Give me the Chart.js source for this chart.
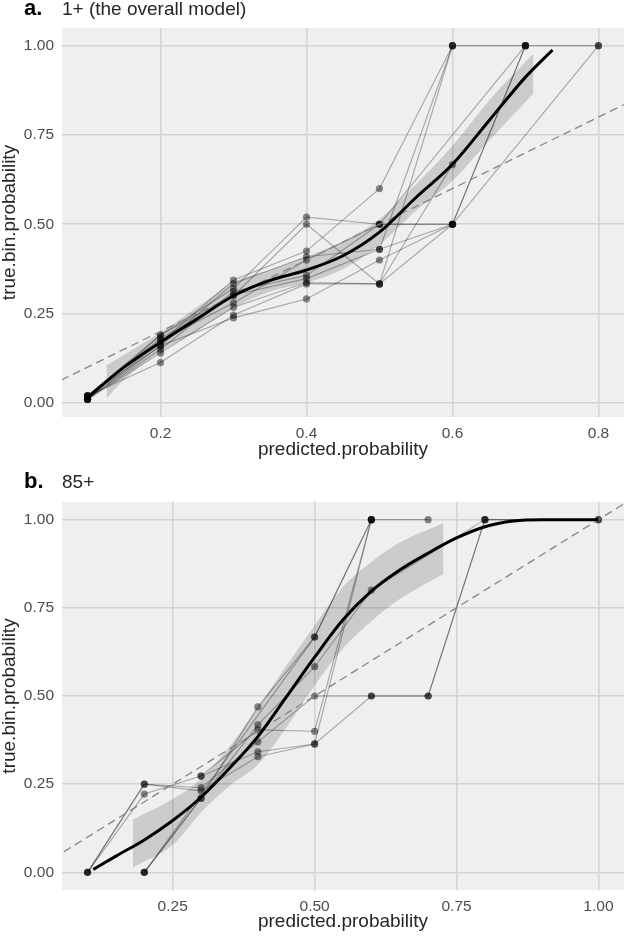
<!DOCTYPE html>
<html>
<head>
<meta charset="utf-8">
<script src="https://cdn.jsdelivr.net/npm/chart.js@4.4.1/dist/chart.umd.min.js"></script>
<style>
  body { margin: 0; background: #fff; }
  canvas { display: block; }
</style>
</head>
<body>
<canvas id="chartA" width="628" height="465"></canvas>
<canvas id="chartB" width="628" height="472"></canvas>
<script>
// ---- panel a: 1+ (the overall model) ----
const binsA = [0.1, 0.2, 0.3, 0.4, 0.5, 0.6, 0.7, 0.8];
const foldsA = [
  [0.01, 0.19, 0.32, 0.52, 0.50, 0.50, 1.00, null],
  [0.02, 0.18, 0.30, 0.50, 0.333, 1.00, 1.00, 1.00],
  [0.01, 0.17, 0.344, 0.425, 0.60, 1.00, null, null],
  [0.02, 0.16, 0.334, 0.409, 0.43, 1.00, null, null],
  [0.01, 0.15, 0.312, 0.357, 0.50, null, 1.00, null],
  [0.02, 0.19, 0.302, 0.348, 0.43, 0.50, null, 1.00],
  [0.01, 0.14, 0.268, 0.337, 0.333, 0.50, null, null],
  [0.02, 0.113, 0.246, 0.333, 0.333, 0.667, null, null],
  [0.01, 0.16, 0.238, 0.291, 0.40, 0.50, null, null],
  [0.02, 0.175, 0.28, 0.40, 0.50, 0.50, 1.00, null]
];
const smoothAx = [0.1, 0.15, 0.2, 0.25, 0.3, 0.35, 0.4, 0.45, 0.5, 0.55, 0.6, 0.65, 0.7, 0.737];
const smoothAy = [0.015, 0.10, 0.17, 0.235, 0.30, 0.343, 0.372, 0.412, 0.478, 0.575, 0.668, 0.79, 0.912, 0.988];
const bandAx = [0.126, 0.15, 0.2, 0.25, 0.3, 0.35, 0.4, 0.45, 0.5, 0.55, 0.6, 0.65, 0.711];
const bandAhi = [0.105, 0.135, 0.197, 0.268, 0.338, 0.372, 0.41, 0.452, 0.515, 0.612, 0.72, 0.846, 0.978];
const bandAlo = [0.012, 0.065, 0.143, 0.203, 0.266, 0.312, 0.336, 0.375, 0.443, 0.538, 0.622, 0.734, 0.866];
const xTicksA = [0.2, 0.4, 0.6, 0.8];

// ---- panel b: 85+ ----
const binsB = [0.1, 0.2, 0.3, 0.4, 0.5, 0.6, 0.7, 0.8, 1.0];
const foldsB = [
  [0, 0.25, 0.24, 0.37, 0.50, 0.50, 0.50, 1.00, 1.00],
  [0, 0.25, 0.231, 0.328, 0.364, 0.50, 0.50, 1.00, 1.00],
  [0, 0.222, 0.273, 0.404, 0.40, 1.00, 1.00, null, null],
  [null, 0, null, null, 0.667, 1.00, null, null, null],
  [null, 0, 0.21, 0.469, 0.667, 1.00, null, null, null],
  [null, 0, 0.21, 0.418, 0.583, 0.80, null, 1.00, null],
  [null, null, 0.273, 0.342, 0.364, 1.00, null, null, null]
];
const smoothBx = [0.11, 0.15, 0.2, 0.25, 0.3, 0.35, 0.4, 0.45, 0.5, 0.55, 0.6, 0.65, 0.7, 0.75, 0.8, 0.85, 0.9, 0.95, 1.0];
const smoothBy = [0.008, 0.046, 0.092, 0.147, 0.213, 0.295, 0.385, 0.497, 0.61, 0.716, 0.797, 0.857, 0.905, 0.948, 0.98, 0.996, 1.0, 1.0, 1.0];
const bandBx = [0.18, 0.25, 0.3, 0.35, 0.4, 0.45, 0.5, 0.55, 0.6, 0.65, 0.727];
const bandBhi = [0.15, 0.208, 0.265, 0.356, 0.468, 0.585, 0.70, 0.81, 0.88, 0.935, 0.99];
const bandBlo = [0.014, 0.078, 0.17, 0.245, 0.305, 0.41, 0.53, 0.635, 0.712, 0.775, 0.846];
const xTicksB = [0.25, 0.50, 0.75, 1.00];

const yTicks = [0, 0.25, 0.5, 0.75, 1.0];
const refLine = [0, 1.2]; // y = x

const FONT = '"Liberation Sans", Arial, sans-serif';

// grey panel background
const panelBg = {
  id: 'panelBg',
  beforeDraw(chart) {
    const a = chart.chartArea, ctx = chart.ctx;
    ctx.save();
    ctx.fillStyle = '#efefef';
    ctx.fillRect(a.left, a.top, a.right - a.left, a.bottom - a.top);
    ctx.restore();
  }
};

// "a.  1+ (...)" style heading
const panelTitle = {
  id: 'panelTitle',
  afterDraw(chart, args, opts) {
    const ctx = chart.ctx;
    ctx.save();
    ctx.textBaseline = 'alphabetic';
    ctx.fillStyle = '#000';
    ctx.font = 'bold 22px ' + FONT;
    ctx.fillText(opts.tag, 24, opts.baseline);
    ctx.fillStyle = '#262626';
    ctx.font = '19px ' + FONT;
    ctx.fillText(opts.text, 62, opts.baseline);
    ctx.restore();
  }
};

function pts(xs, ys) {
  return xs.map((x, i) => ({x: x, y: ys[i]})).filter(p => p.y !== null);
}

function expand(vals) {
  const lo = Math.min(...vals), hi = Math.max(...vals), pad = (hi - lo) * 0.05;
  return [lo - pad, hi + pad];
}

function makeChart(id, p) {
  const [xmin, xmax] = expand(p.bins);
  const allY = p.folds.flat().filter(v => v !== null);
  const [ymin, ymax] = expand(allY);

  const datasets = [
    { // smooth fit
      data: pts(p.sx, p.sy), borderColor: '#000', borderWidth: 3,
      pointRadius: 0, cubicInterpolationMode: 'monotone', fill: false, order: 0
    },
    { // y = x reference
      data: pts(refLine, refLine), borderColor: '#858585', borderWidth: 1.3,
      borderDash: [8, 5], pointRadius: 0, fill: false, clip: 0, order: 1
    },
    { // band upper
      data: pts(p.bx, p.bhi), borderWidth: 0, pointRadius: 0,
      cubicInterpolationMode: 'monotone',
      backgroundColor: 'rgba(0,0,0,0.15)', fill: '+1', order: 2
    },
    { // band lower
      data: pts(p.bx, p.blo), borderWidth: 0, pointRadius: 0,
      cubicInterpolationMode: 'monotone', fill: false, order: 3
    }
  ];
  p.folds.forEach((f, i) => {
    datasets.push({
      data: pts(p.bins, f),
      borderColor: 'rgba(0,0,0,0.3)', borderWidth: 1.15,
      pointRadius: 3.6, pointBackgroundColor: 'rgba(0,0,0,0.45)', pointBorderWidth: 0,
      tension: 0, fill: false, order: 10 + i
    });
  });

  return new Chart(document.getElementById(id), {
    type: 'line',
    data: { datasets: datasets },
    options: {
      responsive: false,
      animation: false,
      events: [],
      layout: { padding: { top: p.top, left: 0, right: 0, bottom: 0 } },
      plugins: {
        legend: { display: false },
        tooltip: { enabled: false },
        panelTitle: { tag: p.tag, text: p.title, baseline: p.baseline }
      },
      scales: {
        x: {
          type: 'linear', min: xmin, max: xmax,
          border: { display: false },
          grid: { color: '#d3d3d3', lineWidth: 1.6, drawTicks: false },
          ticks: {
            padding: 7, color: '#4d4d4d', font: { family: FONT, size: 15.5 },
            callback: v => Number(v).toFixed(p.xdec), maxRotation: 0
          },
          afterBuildTicks: s => { s.ticks = p.xticks.map(v => ({value: v})); },
          title: {
            display: true, text: 'predicted.probability', color: '#262626',
            font: { family: FONT, size: 19, lineHeight: 1 }, padding: { top: 0, bottom: 5.5 }
          },
          afterFit: s => { s.height = p.xh; }
        },
        y: {
          type: 'linear', min: ymin, max: ymax,
          border: { display: false },
          grid: { color: '#d3d3d3', lineWidth: 1.6, drawTicks: false },
          ticks: {
            padding: 8, color: '#4d4d4d', font: { family: FONT, size: 15.5 },
            callback: v => Number(v).toFixed(2)
          },
          afterBuildTicks: s => { s.ticks = yTicks.map(v => ({value: v})); },
          title: {
            display: true, text: 'true.bin.probability', color: '#262626',
            font: { family: FONT, size: 19, lineHeight: 1 }, padding: 0
          },
          afterFit: s => { s.width = 62; }
        }
      }
    },
    plugins: [panelBg, panelTitle]
  });
}

makeChart('chartA', {
  tag: 'a.', title: '1+ (the overall model)', baseline: 15, top: 28, xh: 48,
  bins: binsA, folds: foldsA, sx: smoothAx, sy: smoothAy,
  bx: bandAx, bhi: bandAhi, blo: bandAlo, xticks: xTicksA, xdec: 1
});

makeChart('chartB', {
  tag: 'b.', title: '85+', baseline: 23, top: 37, xh: 47,
  bins: binsB, folds: foldsB, sx: smoothBx, sy: smoothBy,
  bx: bandBx, bhi: bandBhi, blo: bandBlo, xticks: xTicksB, xdec: 2
});
</script>
</body>
</html>
